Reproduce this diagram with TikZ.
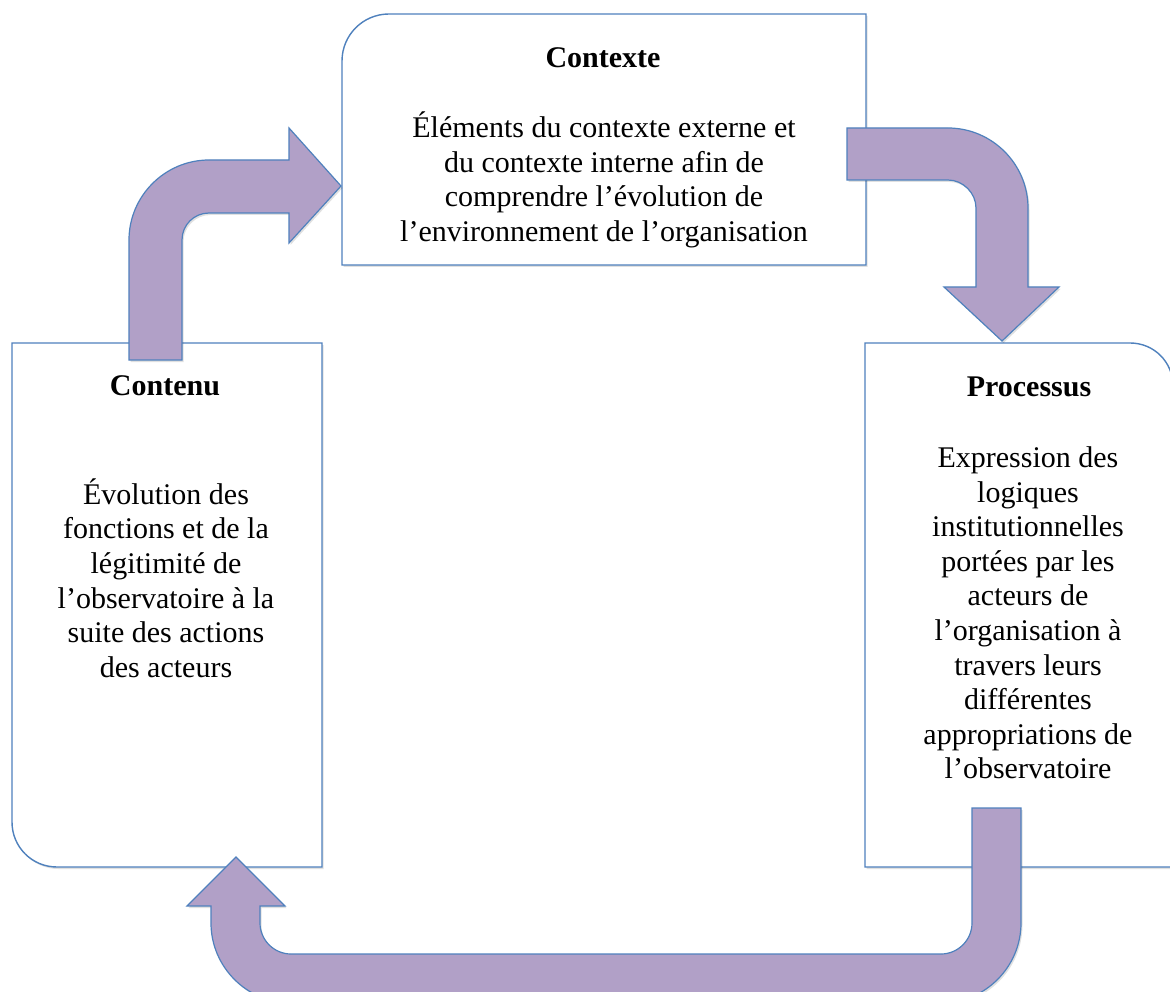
\documentclass[tikz,border=0pt]{standalone}
\usepackage{fontspec}
\setmainfont{Liberation Serif}
\usetikzlibrary{shadows}
\definecolor{boxblue}{RGB}{79,129,189}
\definecolor{arrowfill}{RGB}{177,160,199}
\tikzset{
  boxshape/.style={draw=boxblue, line width=1.4pt, fill=white,
    drop shadow={shadow xshift=1.5pt, shadow yshift=-2pt, fill=black, opacity=0.12}},
  bentarrow/.style={draw=boxblue, line width=1.2pt, fill=arrowfill,
    drop shadow={shadow xshift=1.5pt, shadow yshift=-2pt, fill=black, opacity=0.12}},
  titletext/.style={font=\fontsize{30}{34.6}\selectfont\bfseries, inner sep=0pt},
  bodytext/.style={font=\fontsize{30}{34.6}\selectfont, align=center, inner sep=0pt}
}
\begin{document}
\begin{tikzpicture}[x=1pt,y=-1pt]
\clip (0,0) rectangle (1170,992);
\fill[white] (0,0) rectangle (1170,992);

% boxes
\path[boxshape] (342,265) -- (342,61) .. controls (342,35) and (363,14) .. (389,14) -- (866,14) -- (866,265) -- cycle;
\path[boxshape] (12,343) -- (322,343) -- (322,867) -- (57,867) .. controls (32,867) and (12,847) .. (12,822) -- cycle;
\path[boxshape] (865,867) -- (865,343) -- (1130,343) .. controls (1154,343) and (1173,362) .. (1173,386) -- (1173,867) -- cycle;

% texts
\node[titletext] (ctxt) at (603,58) {Contexte};
\node[bodytext] (ctxb) at (604,180) {Éléments du contexte externe et\\du contexte interne afin de\\comprendre l’évolution de\\l’environnement de l’organisation};
\node[titletext] (cont) at (165,386) {Contenu};
\node[bodytext] (conb) at (166,578) {Évolution des\\fonctions et de la\\légitimité de\\l’observatoire à la\\suite des actions\\des acteurs};
\node[titletext] (proct) at (1029,387) {Processus};
\node[bodytext] (procb) at (1028,613) {Expression des\\logiques\\institutionnelles\\portées par les\\acteurs de\\l’organisation à\\travers leurs\\différentes\\appropriations de\\l’observatoire};

% arrow Contenu -> Contexte
\path[bentarrow] (129,360) -- (129,240) .. controls (129,196) and (165,160) .. (209,160)
  -- (289,160) -- (289,128) -- (341,186) -- (289,243) -- (289,213) -- (209,213)
  .. controls (194,213) and (182,225) .. (182,240) -- (182,360) -- cycle;

% arrow Contexte -> Processus
\path[bentarrow] (847,128) -- (948,128) .. controls (992,128) and (1028,164) .. (1028,208)
  -- (1028,287) -- (1059,287) -- (1002,341) -- (944,287) -- (976,287) -- (976,208)
  .. controls (976,193) and (963,180) .. (948,180) -- (847,180) -- cycle;

% arrow Processus -> Contenu
\path[bentarrow] (972,808) -- (1021,808) -- (1021,923) .. controls (1021,967) and (985,1003) .. (941,1003)
  -- (291,1003) .. controls (247,1003) and (211,967) .. (211,923) -- (211,906) -- (187,906)
  -- (236,857) -- (285,906) -- (260,906) -- (260,923) .. controls (260,940) and (274,954) .. (291,954)
  -- (941,954) .. controls (958,954) and (972,940) .. (972,923) -- cycle;
\end{tikzpicture}
\end{document}
